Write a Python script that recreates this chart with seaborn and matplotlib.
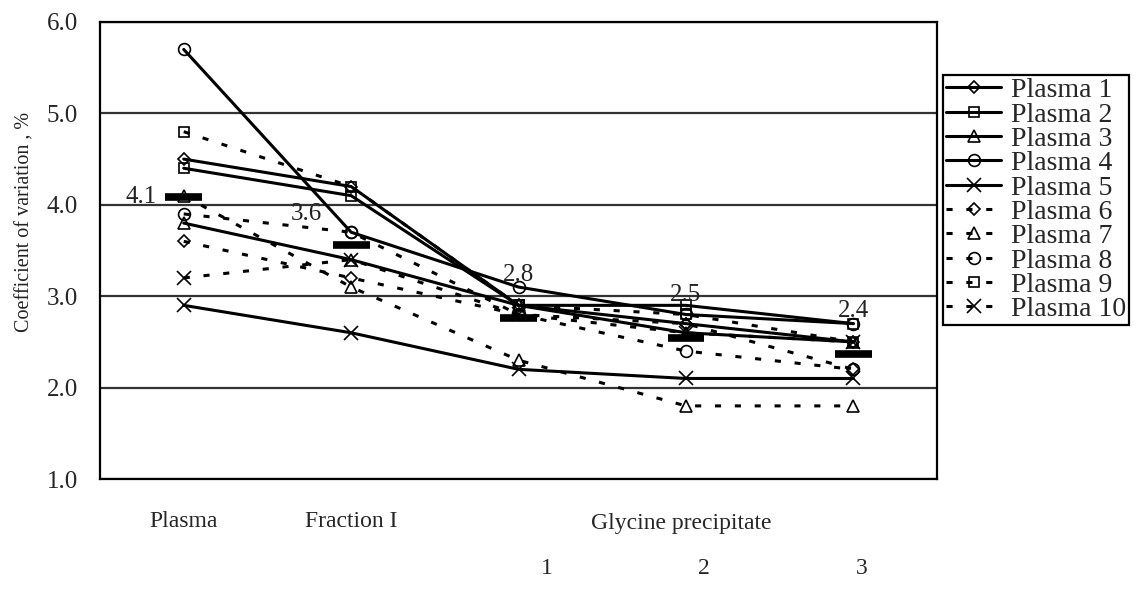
import numpy as np
import pandas as pd
import seaborn as sns
import matplotlib.pyplot as plt

# stages along the x axis (glycine precipitate done three times)
stages = ["Plasma", "Fraction I", "Glycine precipitate 1", "Glycine precipitate 2", "Glycine precipitate 3"]
stage_labels = ["Plasma", "Fraction I"]
glycine_label = "Glycine precipitate"
glycine_steps = ["1", "2", "3"]

series_names = ["Plasma %d" % i for i in range(1, 11)]

# coefficient of variation (%) per plasma sample
plasma_1 = [4.5, 4.2, 2.9, 2.7, 2.5]
plasma_2 = [4.4, 4.1, 2.9, 2.9, 2.7]
plasma_3 = [3.8, 3.4, 2.9, 2.6, 2.5]
plasma_4 = [5.7, 3.7, 3.1, 2.8, 2.7]
plasma_5 = [2.9, 2.6, 2.2, 2.1, 2.1]
plasma_6 = [3.6, 3.2, 2.8, 2.7, 2.2]
plasma_7 = [4.1, 3.1, 2.3, 1.8, 1.8]
plasma_8 = [3.9, 3.7, 2.8, 2.4, 2.2]
plasma_9 = [4.8, 4.2, 2.9, 2.8, 2.5]
plasma_10 = [3.2, 3.4, 2.8, 2.6, 2.5]

all_values = [plasma_1, plasma_2, plasma_3, plasma_4, plasma_5,
              plasma_6, plasma_7, plasma_8, plasma_9, plasma_10]

df = pd.DataFrame(dict(zip(series_names, all_values)), index=stages)
means = df.mean(axis=1)
pos = np.arange(len(stages))

sns.set_style("white")
plt.rcParams["font.family"] = ["Liberation Serif", "DejaVu Serif"]

markers = ["D", "s", "^", "o", "x", "D", "^", "o", "s", "x"]
msizes = [6.5, 7.5, 8.5, 8.5, 9.5, 6.5, 8.5, 8.5, 7.5, 9.5]

fig = plt.figure(figsize=(11.38, 5.99), dpi=100)
ax = fig.add_axes([0.0879, 0.2003, 0.7355, 0.763])

for i, name in enumerate(series_names):
    ls = "-" if i < 5 else (0, (2, 4.5))
    sns.lineplot(x=pos, y=df[name].values, ax=ax, color="black", linewidth=2.2,
                 linestyle=ls, marker=markers[i], markersize=msizes[i],
                 markerfacecolor="none", markeredgecolor="black",
                 markeredgewidth=1.2, errorbar=None, label=name)

handles, labels = ax.get_legend_handles_labels()

# mean bars
ax.hlines(means.values, pos - 0.11, pos + 0.11, color="black", linewidth=5.5, zorder=5)
offsets = [(-31, 0), (-32, 22), (0, 31), (0, 31), (0, 31)]
for x, m, off in zip(pos, means.values, offsets):
    ax.annotate("%.1f" % m, (x, m), xytext=off, textcoords="offset points",
                ha="center", va="center", fontsize=18, color="#222222")

ax.set_xlim(-0.5, len(stages) - 0.5)
ax.set_ylim(1, 6)
ax.set_yticks(np.arange(1, 7))
ax.set_yticklabels(["%.1f" % v for v in np.arange(1, 7)], fontsize=18)
ax.tick_params(axis="y", length=0, pad=16)
ax.set_xticks(pos[:-1] + 0.5)
ax.set_xticklabels([])
ax.tick_params(axis="x", direction="in", length=6, width=1, color="#333333")
ax.grid(axis="y", color="#333333", linewidth=1.6)
ax.set_axisbelow(True)
for sp in ax.spines.values():
    sp.set_color("black")
    sp.set_linewidth(1.6)

ax.set_xlabel("")
ax.set_ylabel("Coefficient of variation , %", fontsize=14.5, color="#222222")
ax.yaxis.set_label_coords(-0.078, 0.562)

tr = ax.get_xaxis_transform()
for x, lab in zip(pos[:2], stage_labels):
    ax.text(x, -0.092, lab, transform=tr, ha="center", va="center", fontsize=17)
ax.text(2.434, -0.097, glycine_label, transform=tr, ha="left", va="center", fontsize=17)
for x, lab in zip([2.17, 3.11, 4.05], glycine_steps):
    ax.text(x, -0.195, lab, transform=tr, ha="center", va="center", fontsize=17)

leg = ax.legend(handles, labels, loc="upper left", bbox_to_anchor=(943 / 1138, 1 - 75 / 599),
                bbox_transform=fig.transFigure, fontsize=20, labelspacing=-0.04,
                handlelength=2.0, handletextpad=0.36, borderpad=0.1, borderaxespad=0,
                frameon=True, fancybox=False, framealpha=1, edgecolor="black")
leg.get_frame().set_linewidth(1.6)

fig.savefig("out.png", dpi=100)
